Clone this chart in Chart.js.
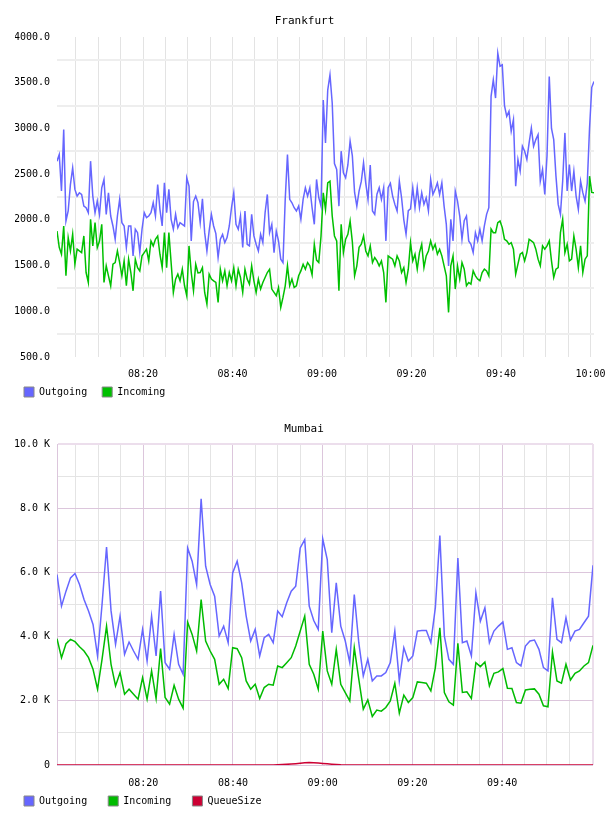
<!DOCTYPE html>
<html><head><meta charset="utf-8">
<script src="https://cdn.jsdelivr.net/npm/chart.js@4.4.0/dist/chart.umd.min.js"></script>
<style>html,body{margin:0;padding:0;background:#fff;overflow:hidden;width:608px;height:816px}canvas{display:block}</style>
</head><body>
<canvas id="fra" width="608" height="408"></canvas>
<canvas id="mum" width="608" height="408"></canvas>
<script>
const FONT = 'DejaVu Sans Mono';

const fraTitle = 'Frankfurt';
const mumTitle = 'Mumbai';
const seriesNames = ['Outgoing', 'Incoming', 'QueueSize'];

// sampling: minutes after 08:00
const fraStartMin = 0.78, fraStepMin = 0.5;
const mumStartMin = 0.78, mumStepMin = 1.004;

const fraOutgoing = [
2642,2714,2315,2987,1987,2097,2387,2569,2333,2260,
2296,2278,2151,2133,2078,2642,2260,2078,2206,2060,
2351,2442,2060,2296,2042,1933,1788,2042,2224,1969,
1933,1697,1933,1933,1606,1897,1860,1642,1897,2078,
2024,2042,2078,2187,2042,2387,2115,1933,2405,2078,
2333,2006,1897,2060,1915,1969,1951,1933,2460,2369,
1770,2200,2260,2187,1969,2230,1860,1660,1880,2060,
1933,1850,1588,1788,1840,1751,1806,1933,2133,2296,
1950,1897,2042,1697,2097,1733,1715,2060,1824,1733,
1660,1842,1751,2078,2278,1860,1951,1642,1878,1770,
1570,1533,2224,2714,2224,2187,2133,2097,2151,2006,
2224,2351,2260,2351,2133,1951,2442,2242,2150,3310,
2840,3420,3586,3278,2615,2551,2150,2751,2514,2460,
2600,2860,2700,2300,2151,2315,2420,2623,2400,2224,
2600,2097,2060,2280,2351,2224,2351,1770,2351,2400,
2260,2169,2097,2424,2242,2000,1842,2100,2120,2351,
2133,2351,2133,2296,2169,2242,2097,2442,2278,2333,
2405,2278,2405,2151,1951,1497,2006,1770,2315,2206,
2042,1788,1990,2042,1770,1733,1642,1860,1770,1897,
1770,1933,2060,2133,3350,3532,3332,3823,3680,3695,
3250,3132,3187,2969,3096,2369,2660,2533,2805,2751,
2660,2842,3005,2805,2878,2932,2424,2551,2278,2700,
3568,3000,2878,2478,2169,2060,2424,2951,2315,2605,
2315,2533,2260,2115,2424,2297,2206,2400,3000,3450,
3514];

const fraIncoming = [
1878,1700,1624,1933,1388,1806,1660,1842,1515,1679,
1660,1642,1824,1424,1315,2006,1715,1969,1697,1769,
1951,1315,1497,1388,1279,1515,1533,1660,1533,1388,
1551,1279,1570,1424,1224,1570,1478,1442,1606,1642,
1679,1551,1769,1715,1788,1824,1624,1478,1860,1478,
1860,1533,1206,1352,1406,1333,1460,1279,1170,1715,
1424,1224,1515,1420,1424,1478,1206,1079,1406,1352,
1333,1315,1097,1460,1333,1442,1279,1424,1333,1478,
1279,1460,1370,1206,1460,1352,1297,1497,1333,1206,
1352,1243,1315,1370,1424,1460,1243,1206,1170,1261,
1043,1152,1279,1497,1279,1352,1261,1279,1388,1442,
1515,1460,1533,1497,1400,1733,1560,1533,1824,2296,
2115,2405,2424,2042,1824,1770,1224,1951,1642,1788,
1842,1987,1760,1388,1497,1700,1733,1824,1660,1606,
1715,1533,1588,1551,1497,1551,1424,1097,1606,1588,
1570,1497,1606,1551,1424,1478,1315,1460,1751,1551,
1624,1460,1642,1733,1478,1606,1660,1770,1679,1733,
1624,1679,1606,1497,1388,988,1497,1606,1243,1497,
1352,1533,1461,1279,1315,1297,1442,1388,1352,1333,
1424,1461,1442,1388,1900,1860,1860,1969,1987,1915,
1788,1770,1733,1751,1679,1406,1515,1624,1642,1551,
1642,1788,1770,1751,1679,1570,1497,1715,1679,1715,
1770,1551,1370,1461,1479,1860,2006,1642,1733,1551,
1570,1824,1679,1479,1715,1424,1570,1606,2478,2300,
2297];

const mumOutgoing = [
5934,4950,5416,5830,5965,5623,5157,4800,4379,3396,
5000,6793,4800,3758,4638,3448,3831,3551,3293,4224,
3241,4638,3396,5416,3189,2982,4069,3137,2827,6762,
6348,5623,8294,6193,5623,5261,4017,4327,3810,5985,
6348,5675,4638,3862,4224,3396,3965,4069,3810,4793,
4617,5054,5416,5571,6762,7021,4950,4500,4224,7041,
6400,4120,5675,4327,3862,3189,5313,3810,2775,3293,
2620,2775,2775,2879,3189,4172,2620,3655,3241,3396,
4172,4193,4193,3810,4900,7145,4017,3293,3137,6451,
3810,3862,3396,5364,4483,4900,3810,4172,4327,4452,
3603,3655,3189,3086,3707,3862,3893,3603,3034,2930,
5209,3914,3810,4586,3893,4172,4224,4431,4638,6224];

const mumIncoming = [
3934,3344,3779,3914,3841,3686,3551,3344,2982,2361,
3293,4327,3137,2465,2879,2206,2361,2206,2051,2723,
2051,2930,2071,3624,2102,1895,2485,2051,1771,4452,
4069,3551,5157,3862,3551,3293,2516,2672,2382,3655,
3624,3344,2620,2361,2516,2071,2413,2516,2485,3086,
3034,3189,3344,3707,4172,4638,3137,2827,2361,4172,
2930,2516,3603,2516,2258,1999,3655,2672,1740,2030,
1512,1709,1678,1792,1999,2547,1616,2175,1947,2102,
2589,2568,2547,2309,3034,4276,2258,1968,1864,3789,
2258,2278,2071,3189,3065,3210,2465,2858,2899,3003,
2392,2382,1947,1926,2340,2361,2371,2206,1843,1812,
3520,2620,2547,3137,2651,2858,2930,3086,3189,3727];

const mumQueueSize = [
0,0,0,0,0,0,0,0,0,0,
0,0,0,0,0,0,0,0,0,0,
0,0,0,0,0,0,0,0,0,0,
0,0,0,0,0,0,0,0,0,0,
0,0,0,0,0,0,0,0,2,6,
12,20,30,42,55,68,75,72,62,50,
36,24,14,6,2,0,0,0,0,0,
0,0,0,0,0,0,0,0,0,0,
0,0,0,0,0,0,0,0,0,0,
0,0,0,0,0,0,0,0,0,0,
0,0,0,0,0,0,0,0,0,0,
0,0,0,0,0,0,0,0,0,0];

const fraYLabelValues = [500,1000,1500,2000,2500,3000,3500,4000];
const mumYLabelValues = [0,2000,4000,6000,8000,10000];
const xLabelMinutes = [20,40,60,80,100,120];

const COLORS = { out: '#6666ff', inc: '#00c000', incM: '#00bb00', queue: '#cc0033' };

Chart.defaults.font.family = FONT;
Chart.defaults.font.size = 10;
Chart.defaults.color = '#000';

function fmtTime(m) {
  const h = 8 + Math.floor(m / 60);
  const mm = Math.round(m % 60);
  return String(h).padStart(2, '0') + ':' + String(mm).padStart(2, '0');
}
function times(n, start, step) { return Array.from({length: n}, (_, i) => start + i * step); }

function legendLabels(chart) {
  const items = Chart.defaults.plugins.legend.labels.generateLabels(chart);
  const maxLen = Math.max(...items.map(it => it.text.length));
  items.forEach(it => { it.text = it.text.padEnd(maxLen + 1, ' '); it.strokeStyle = '#888888'; it.lineWidth = 1; });
  return items;
}

function lineDs(label, data, color) {
  return { label, data, borderColor: color, backgroundColor: color, borderWidth: 1.5, pointRadius: 0, tension: 0, fill: false };
}

function makeChart(id, opts) {
  const xMax = opts.labels[opts.labels.length - 1];
  const gridMinutes = [];
  for (let m = 5; m <= opts.lastGridMin; m += 5) gridMinutes.push(m);
  if (opts.rightBorder) gridMinutes.push(xMax);
  return new Chart(document.getElementById(id), {
    type: 'line',
    data: { labels: opts.labels, datasets: opts.datasets },
    options: {
      responsive: false, animation: false, devicePixelRatio: 1,
      layout: { padding: opts.padding },
      plugins: {
        title: { display: true, text: opts.title, color: '#000', font: { family: FONT, size: 11, weight: 'normal' }, padding: opts.titlePadding },
        legend: { display: true, position: 'bottom', align: 'start',
          labels: { boxWidth: 10, boxHeight: 10, padding: 9, color: '#000', font: { family: FONT, size: 10 }, generateLabels: legendLabels } },
        tooltip: { enabled: false }
      },
      scales: {
        x: {
          type: 'linear', min: opts.labels[0], max: xMax,
          afterBuildTicks: s => { s.ticks = gridMinutes.map(v => ({ value: v })); },
          afterFit: s => { s.height = opts.xHeight; s.paddingLeft = 0; s.paddingRight = 0; },
          ticks: { autoSkip: false, maxRotation: 0, minRotation: 0, padding: opts.xPad, color: '#000', font: { family: FONT, size: 10 },
            callback: v => xLabelMinutes.includes(v) ? fmtTime(v) : '' },
          grid: { drawTicks: false, color: opts.xGridColor, lineWidth: opts.xGridWidth },
          border: { display: false }
        },
        y: {
          type: 'linear', min: opts.yMin, max: opts.yMax,
          afterFit: s => { s.width = 42; s.paddingTop = 0; s.paddingBottom = 0; },
          ticks: { stepSize: opts.yStep, autoSkip: false, padding: 7, color: '#000', font: { family: FONT, size: 10 },
            callback: opts.yLabel },
          grid: { drawTicks: false, color: opts.yGridColor, lineWidth: opts.yGridWidth },
          border: opts.yBorder
        }
      }
    }
  });
}

// Frankfurt
makeChart('fra', {
  title: fraTitle,
  labels: times(fraOutgoing.length, fraStartMin, fraStepMin),
  datasets: [ lineDs(seriesNames[0], fraOutgoing, COLORS.out), lineDs(seriesNames[1], fraIncoming, COLORS.inc) ],
  padding: { left: 15, right: 14, top: 0, bottom: 1 },
  titlePadding: { top: 15, bottom: 8.8 },
  xHeight: 21, xPad: 11, lastGridMin: 120, rightBorder: false,
  xGridColor: '#e3e3e3', xGridWidth: 1,
  yMin: 500, yMax: 4000, yStep: 250,
  yLabel: v => fraYLabelValues.includes(v) ? v.toFixed(1) : '',
  yGridColor: c => fraYLabelValues.includes(c.tick.value) ? 'rgba(0,0,0,0)' : '#eeeeee',
  yGridWidth: 2,
  yBorder: { display: false }
});

// Mumbai
const PINK = '#dcc6dc', PINK_LIGHT = '#ecdeec', GRAY = '#e4e4e4';
makeChart('mum', {
  title: mumTitle,
  labels: times(mumOutgoing.length, mumStartMin, mumStepMin),
  datasets: [ lineDs(seriesNames[0], mumOutgoing, COLORS.out), lineDs(seriesNames[1], mumIncoming, COLORS.incM), lineDs(seriesNames[2], mumQueueSize, COLORS.queue) ],
  padding: { left: 15, right: 15, top: 0, bottom: 0 },
  titlePadding: { top: 15, bottom: 7.8 },
  xHeight: 22, xPad: 12, lastGridMin: 115, rightBorder: true,
  xGridColor: c => { const v = c.tick.value; if (v > 119) return PINK_LIGHT; return (v % 20 === 0) ? PINK : GRAY; },
  xGridWidth: c => (c.tick.value > 119 ? 2 : 1),
  yMin: 0, yMax: 10000, yStep: 1000,
  yLabel: v => mumYLabelValues.includes(v) ? (v === 0 ? '0' : (v / 1000).toFixed(1) + ' K') : '',
  yGridColor: c => { const v = c.tick.value; if (v === 10000) return PINK_LIGHT; return mumYLabelValues.includes(v) ? PINK : GRAY; },
  yGridWidth: c => (c.tick.value === 10000 ? 2 : 1),
  yBorder: { display: true, color: PINK, width: 1 }
});
</script>
</body></html>
